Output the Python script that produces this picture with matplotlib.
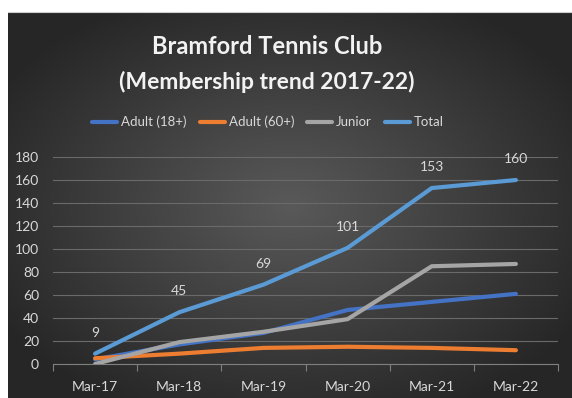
import numpy as np
import matplotlib
matplotlib.use("Agg")
import matplotlib.pyplot as plt
from matplotlib.lines import Line2D

categories = ["Mar-17", "Mar-18", "Mar-19", "Mar-20", "Mar-21", "Mar-22"]
adult18 = [4, 17, 27, 47, 54, 61]
adult60 = [5, 9, 14, 15, 14, 12]
junior = [0, 19, 28, 39, 85, 87]
total = [9, 45, 69, 101, 153, 160]
series_names = ["Adult (18+)", "Adult (60+)", "Junior", "Total"]
colors = ["#4472C4", "#ED7D31", "#A5A5A5", "#5B9BD5"]
yticks = [0, 20, 40, 60, 80, 100, 120, 140, 160, 180]

W, H = 572, 398
fig = plt.figure(figsize=(W / 100, H / 100), dpi=100, facecolor="white")

# background radial gradient
bg = fig.add_axes([8 / W, 0, 1 - 8 / W, 1 - 12 / H], zorder=-10)
gx = np.linspace(-1, 1, 400)
gy = np.linspace(-1, 1, 300)
XX, YY = np.meshgrid(gx, gy)
R = np.clip(np.sqrt(XX ** 2 + YY ** 2) / 1.2, 0, 1)
val = 0.35 - (0.35 - 0.15) * R
img = np.dstack([val, val, val])
bg.imshow(img, aspect="auto", extent=[0, 1, 0, 1], interpolation="bilinear")
bg.axis("off")
fig.add_artist(Line2D([8 / W, 1], [1 - 12 / H, 1 - 12 / H], color="#cfcfcf", lw=0.8))

tick_font = "Lato"
title_font = "Lato"

left, right = 53 / W, 558 / W
bottom, top = 1 - 364 / H, 1 - 157 / H
ax = fig.add_axes([left, bottom, right - left, top - bottom])
ax.set_facecolor("none")
x = np.arange(len(categories))
all_series = [adult18, adult60, junior, total]
for s, c, n in zip(all_series, colors, series_names):
    ax.plot(x, s, color=c, lw=3.0, solid_capstyle="round", solid_joinstyle="round", label=n, zorder=3)

for xi, v in zip(x, total):
    ax.annotate(str(v), (xi, v), xytext=(0, 15), textcoords="offset points",
                ha="center", va="center", color="#d9d9d9", fontsize=10, family=tick_font)

ax.set_xlim(-0.5, 5.5)
ax.set_ylim(0, 180)
ax.set_yticks(yticks)
ax.set_yticklabels([str(t) for t in yticks], family=tick_font, fontsize=10, color="#d9d9d9")
ax.set_xticks(x)
ax.set_xticklabels(categories, family=tick_font, fontsize=10, color="#d9d9d9")
ax.set_xticks(np.arange(-0.5, 6.0, 1.0), minor=True)
ax.tick_params(axis="x", which="major", length=0, pad=12)
ax.tick_params(axis="x", which="minor", length=5, color="#7f7f7f", width=0.8, direction="out")
ax.tick_params(axis="y", length=0, pad=10)
ax.grid(axis="y", color="#6a6a6a", lw=0.8, zorder=0)
for sp in ["top", "right", "left"]:
    ax.spines[sp].set_visible(False)
ax.spines["bottom"].set_color("#7f7f7f")
ax.spines["bottom"].set_linewidth(0.8)
ax.set_axisbelow(True)

fig.text(267 / W, 1 - 46 / H, "Bramford Tennis Club", ha="center", va="center",
         fontsize=17, fontweight="bold", color="#f2f2f2", family=title_font)
fig.text(267 / W, 1 - 82 / H, "(Membership trend 2017-22)", ha="center", va="center",
         fontsize=16.5, fontweight="bold", color="#f2f2f2", family=title_font)

handles = [Line2D([0], [0], color=c, lw=3.0, solid_capstyle="round") for c in colors]
leg = fig.legend(handles, series_names, loc="center", bbox_to_anchor=(268 / W, 1 - 122 / H),
                 ncol=4, frameon=False, prop={"family": tick_font, "size": 9.5},
                 handlelength=1.9, handletextpad=0.3, columnspacing=1.0, labelcolor="#d9d9d9")

fig.savefig("out.png", dpi=100, facecolor="white")
